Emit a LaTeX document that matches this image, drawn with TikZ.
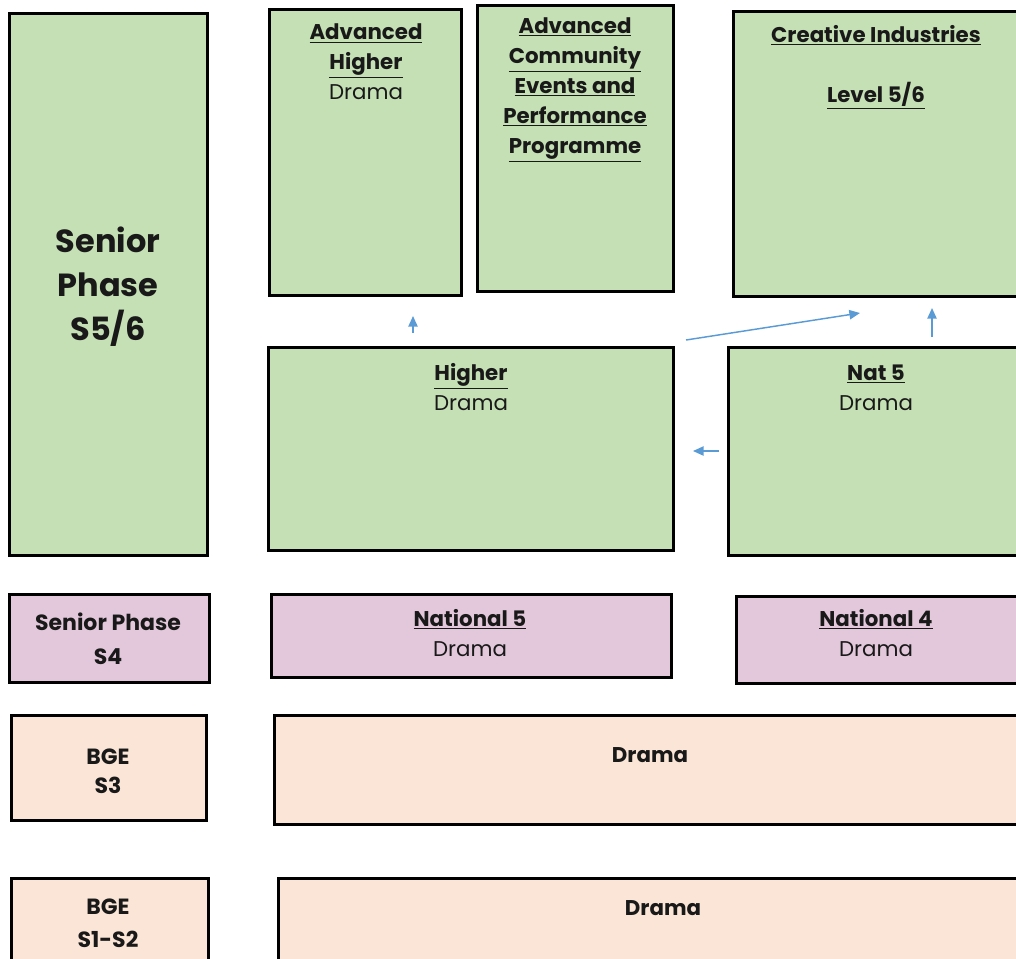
\documentclass[tikz,border=0pt]{standalone}
\usepackage{fontspec}
\setmainfont{Poppins}
\usetikzlibrary{arrows.meta,fit}
\definecolor{stageGreen}{HTML}{C5E0B4}
\definecolor{stagePink}{HTML}{E3C8DB}
\definecolor{stagePeach}{HTML}{FBE5D6}
\definecolor{flowBlue}{HTML}{5B9BD5}
\begin{document}
\begin{tikzpicture}
    [x = 0.75pt, y = -0.75pt,
     box/.style = {draw, line width = 2.2pt, fill = #1, inner sep = 0pt, outer sep = 0pt},
     txt/.style = {align = center, text = black!90, font = \fontsize{16}{22.5}\selectfont},
     big/.style = {align = center, text = black!90, font = \bfseries\fontsize{24}{33}\selectfont},
     flow/.style = {draw = flowBlue, line width = 1.1pt, -{Triangle[length = 8pt, width = 7pt]}}]
    \clip (0,0) rectangle (1016,958);
    % senior phase S5/6
    \node[box = stageGreen, fit = {(9.5,13.5) (207.5,555.5)}] (sp56) {};
    \node[box = stageGreen, fit = {(269.5,9.5) (461.5,295.5)}] (ahi) {};
    \node[box = stageGreen, fit = {(477.5,5.5) (673.5,291.5)}] (acep) {};
    \node[box = stageGreen, fit = {(733.5,11.5) (1030,296.5)}] (cri) {};
    \node[box = stageGreen, fit = {(268.5,347.5) (673.5,550.5)}] (hi) {};
    \node[box = stageGreen, fit = {(728.5,347.5) (1030,555.5)}] (nfhi) {};
    \node[big] (sp56T) at (108,287) {Senior\\Phase\\S5/6};
    \node[txt] (ahiT) at (366,62) {\textbf{\underline{Advanced}}\\\textbf{\underline{Higher}}\\Drama};
    \node[txt] (acepT) at (575,90) {\textbf{\underline{Advanced}}\\\textbf{\underline{Community}}\\\textbf{\underline{Events and}}\\\textbf{\underline{Performance}}\\\textbf{\underline{Programme}}};
    \node[txt] (criT) at (876,67) {\textbf{\underline{Creative Industries}}\\[22.5pt]\textbf{\underline{Level 5/6}}};
    \node[txt] (hiT) at (471,387) {\textbf{\underline{Higher}}\\Drama};
    \node[txt] (nfhiT) at (876,388) {\textbf{\underline{Nat 5}}\\Drama};
    % senior phase S4
    \node[box = stagePink, fit = {(9.5,594.5) (209.5,682.5)}] (sp4) {};
    \node[box = stagePink, fit = {(271.5,594.5) (671.5,677.5)}] (natf) {};
    \node[box = stagePink, fit = {(736.5,596.5) (1030,683.5)}] (natv) {};
    \node[txt, font = \bfseries\fontsize{16.5}{25.5}\selectfont] (sp4T) at (108,639) {Senior Phase\\S4};
    \node[txt] (natfT) at (470,633) {\textbf{\underline{National 5}}\\Drama};
    \node[txt] (natvT) at (876,633) {\textbf{\underline{National 4}}\\Drama};
    % broad general education
    \node[box = stagePeach, fit = {(11.5,715.5) (206.5,820.5)}] (bgeA) {};
    \node[box = stagePeach, fit = {(274.5,715.5) (1030,824.5)}] (drA) {};
    \node[box = stagePeach, fit = {(11.5,878.5) (208.5,975)}] (bgeB) {};
    \node[box = stagePeach, fit = {(278.5,878.5) (1030,975)}] (drB) {};
    \node[txt, font = \bfseries\fontsize{16.5}{22}\selectfont] (bgeAT) at (108,771) {BGE\\S3};
    \node[txt, font = \bfseries\fontsize{16.5}{25}\selectfont] (bgeBT) at (108,923) {BGE\\S1-S2};
    \node[txt, font = \bfseries\fontsize{16}{22}\selectfont] (drAT) at (650,755) {Drama};
    \node[txt, font = \bfseries\fontsize{16}{22}\selectfont] (drBT) at (663,908) {Drama};
    % progression arrows
    \draw[flow] ([shift = {(-58,-14.5)}]hi.north) -- ([shift = {(47.5,20.5)}]ahi.south);
    \draw[flow] ([shift = {(12.5,-7.5)}]hi.north east) -- ([shift = {(-21.75,16.5)}]cri.south);
    \draw[flow] ([shift = {(52.75,-10.5)}]nfhi.north) -- ([shift = {(50.25,11.5)}]cri.south);
    \draw[flow] ([shift = {(-9.5,-0.5)}]nfhi.west) -- ([shift = {(19.5,2)}]hi.east);
\end{tikzpicture}
\end{document}
